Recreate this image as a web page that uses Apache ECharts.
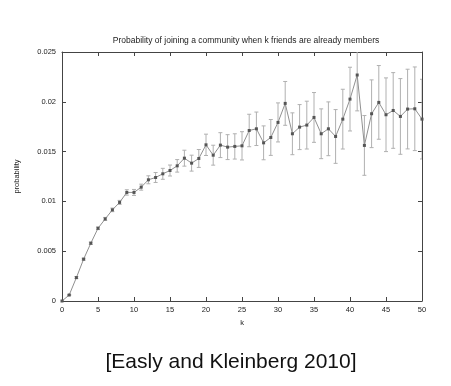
<!DOCTYPE html>
<html><head><meta charset="utf-8">
<script src="https://cdn.jsdelivr.net/npm/echarts@6/dist/echarts.min.js"></script>
<style>html,body{margin:0;padding:0;background:#fff}#c{width:451px;height:386px}</style>
</head><body><div id="c"></div>
<script>
const titleText = 'Probability of joining a community when k friends are already members';
const captionText = '[Easly and Kleinberg 2010]';
const xTicks = [0,5,10,15,20,25,30,35,40,45,50];
const yTicks = [0,0.005,0.01,0.015,0.02,0.025];
const kValues = [0,1,2,3,4,5,6,7,8,9,10,11,12,13,14,15,16,17,18,19,20,21,22,23,24,25,26,27,28,29,30,31,32,33,34,35,36,37,38,39,40,41,42,43,44,45,46,47,48,49,50];
const probability = [0,0.0006,0.00235,0.0042,0.0058,0.0073,0.00824,0.00915,0.0099,0.0109,0.0109,0.01143,0.01217,0.0124,0.01277,0.0131,0.01357,0.01434,0.01384,0.01431,0.01568,0.01464,0.01565,0.01545,0.01552,0.01558,0.01712,0.01729,0.01588,0.01642,0.01793,0.01984,0.01679,0.01746,0.01766,0.01843,0.01679,0.01729,0.01652,0.01826,0.02027,0.02269,0.01562,0.0188,0.01994,0.0187,0.01913,0.01853,0.01927,0.0193,0.01826];
const errorBar = [0,0.00005,0.0001,0.0001,0.00012,0.00013,0.00015,0.00018,0.0002,0.00027,0.0003,0.0003,0.0004,0.0005,0.00055,0.00055,0.00063,0.0008,0.0008,0.0009,0.00107,0.001,0.00125,0.00125,0.00127,0.00142,0.00163,0.00168,0.0017,0.0018,0.00196,0.0022,0.0021,0.00226,0.0024,0.0025,0.0025,0.0027,0.0027,0.003,0.0032,0.0036,0.003,0.0034,0.0037,0.0037,0.0038,0.0038,0.004,0.0042,0.004];

const lineData = kValues.map((k,i)=>[k, probability[i]]);
const errData = kValues.map((k,i)=>[k, probability[i]-errorBar[i], probability[i]+errorBar[i]]);

const chart = echarts.init(document.getElementById('c'), null, {renderer:'canvas'});
const axisCol = '#444';
const font = 'Liberation Sans, Arial, sans-serif';
const baseX = {type:'value', min:0, max:50, interval:5,
  axisLine:{show:true, onZero:false, lineStyle:{color:axisCol, width:1}},
  axisTick:{show:true, inside:true, length:4, lineStyle:{color:axisCol}},
  splitLine:{show:false}};
const baseY = {type:'value', min:0, max:0.025, interval:0.005,
  axisLine:{show:true, onZero:false, lineStyle:{color:axisCol, width:1}},
  axisTick:{show:true, inside:true, length:4, lineStyle:{color:axisCol}},
  splitLine:{show:false}};
chart.setOption({
  animation:false,
  backgroundColor:'#fff',
  title:[
    {text:titleText, left:241, top:31, textAlign:'center',
     textStyle:{fontSize:8.5, fontWeight:'normal', color:'#222', fontFamily:font}},
    {text:captionText, left:226, top:347, textAlign:'center',
     textStyle:{fontSize:21, fontWeight:'normal', color:'#111', fontFamily:font}}
  ],
  grid:{left:62, top:52, width:360, height:249, containLabel:false},
  xAxis:[
    Object.assign({}, baseX, {position:'bottom', name:'k', nameLocation:'middle', nameGap:16,
      nameTextStyle:{fontSize:7.5, color:'#222', fontFamily:font},
      axisLabel:{show:true, fontSize:7.5, color:'#222', margin:5, fontFamily:font,
        formatter:v=>xTicks.includes(v)?String(v):''}}),
    Object.assign({}, baseX, {position:'top', axisLabel:{show:false}})
  ],
  yAxis:[
    Object.assign({}, baseY, {position:'left', name:'probability', nameLocation:'middle', nameGap:41,
      nameTextStyle:{fontSize:7.5, color:'#222', fontFamily:font},
      axisLabel:{show:true, fontSize:7.5, color:'#222', margin:6, fontFamily:font,
        formatter:v=>{const t=yTicks.find(y=>Math.abs(y-v)<1e-9); return t===undefined?'':String(t);}}}),
    Object.assign({}, baseY, {position:'right', axisLabel:{show:false}})
  ],
  series:[
    {type:'custom', xAxisIndex:0, yAxisIndex:0, clip:true, z:2,
     data:errData,
     renderItem:function(params, api){
       const x = api.value(0);
       const lo = api.coord([x, api.value(1)]);
       const hi = api.coord([x, api.value(2)]);
       const cw = 2;
       const st = {stroke:'#b0b0b0', lineWidth:1};
       return {type:'group', children:[
         {type:'line', shape:{x1:lo[0], y1:lo[1], x2:hi[0], y2:hi[1]}, style:st},
         {type:'line', shape:{x1:lo[0]-cw, y1:lo[1], x2:lo[0]+cw, y2:lo[1]}, style:st},
         {type:'line', shape:{x1:hi[0]-cw, y1:hi[1], x2:hi[0]+cw, y2:hi[1]}, style:st}
       ]};
     }},
    {type:'line', xAxisIndex:0, yAxisIndex:0, data:lineData, z:3,
     lineStyle:{color:'#909090', width:1},
     symbol:'rect', symbolSize:3, showAllSymbol:true,
     itemStyle:{color:'#555'}}
  ]
});
</script></body></html>
